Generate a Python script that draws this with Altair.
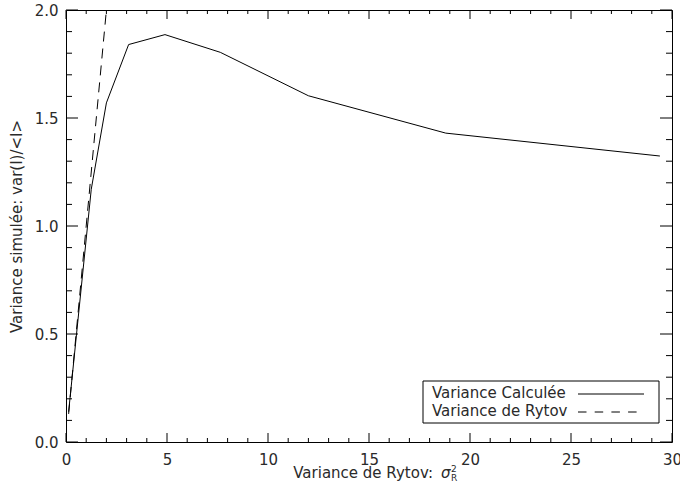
import altair as alt
import pandas as pd

# ---- data ----
calc_x = [0.13, 1.25, 2.0, 3.1, 4.9, 7.64, 12.0, 18.8, 29.4]
calc_y = [0.14, 1.17, 1.57, 1.84, 1.886, 1.804, 1.603, 1.43, 1.324]
rytov_x = [0.13, 1.25, 2.0]
rytov_y = [0.13, 1.25, 2.0]

x_major = [0, 5, 10, 15, 20, 25, 30]
x_minor = [1, 2, 3, 4, 6, 7, 8, 9, 11, 12, 13, 14, 16, 17, 18, 19,
           21, 22, 23, 24, 26, 27, 28, 29]
y_major = [0.0, 0.5, 1.0, 1.5, 2.0]
y_minor = [0.1, 0.2, 0.3, 0.4, 0.6, 0.7, 0.8, 0.9, 1.1, 1.2, 1.3, 1.4,
           1.6, 1.7, 1.8, 1.9]

legend_labels = ["Variance Calculée", "Variance de Rytov"]
x_title = "Variance de Rytov:"
y_title = "Variance simulée: var(I)/<I>"

W, H = 606, 432
FONT = "DejaVu Sans"
TXT = "#2a2a2a"

calc = pd.DataFrame({"x": calc_x, "y": calc_y})
ryt = pd.DataFrame({"x": rytov_x, "y": rytov_y})

xscale = alt.Scale(domain=[0, 30], nice=False, zero=False)
yscale = alt.Scale(domain=[0, 2], nice=False, zero=False)
xaxis = alt.Axis(title=None, values=x_major, format="d", grid=False, domain=False,
                 ticks=False, tickSize=0, labelPadding=10, labelFont=FONT,
                 labelFontSize=15, labelColor=TXT, labelBaseline="top",
                 labelFlush=False, labelOverlap=False, labelBound=False)
yaxis = alt.Axis(title=y_title, values=y_major, format=".1f", grid=False, domain=False,
                 ticks=False, tickSize=0, labelPadding=8, labelFont=FONT,
                 labelFontSize=15, labelColor=TXT, titleFont=FONT, titleFontSize=15,
                 titleFontWeight="normal", titleColor=TXT, titlePadding=10)

X = lambda f: alt.X(f, scale=xscale, axis=xaxis)
Y = lambda f: alt.Y(f, scale=yscale, axis=yaxis)

solid = alt.Chart(calc).mark_line(color="black", strokeWidth=1, clip=True).encode(
    x=X("x:Q"), y=Y("y:Q"))
dashed = alt.Chart(ryt).mark_line(color="black", strokeWidth=1, strokeDash=[10, 7],
                                  clip=True).encode(x=X("x:Q"), y=Y("y:Q"))

def xticks(vals, length):
    d = pd.DataFrame({"v": vals})
    b = alt.Chart(d).mark_rule(color="black", strokeWidth=1).encode(
        x=X("v:Q"), y=alt.value(H), y2=alt.value(H - length))
    t = alt.Chart(d).mark_rule(color="black", strokeWidth=1).encode(
        x=X("v:Q"), y=alt.value(0), y2=alt.value(length))
    return [b, t]

def yticks(vals, length):
    d = pd.DataFrame({"v": vals})
    l = alt.Chart(d).mark_rule(color="black", strokeWidth=1).encode(
        y=Y("v:Q"), x=alt.value(0), x2=alt.value(length))
    r = alt.Chart(d).mark_rule(color="black", strokeWidth=1).encode(
        y=Y("v:Q"), x=alt.value(W), x2=alt.value(W - length))
    return [l, r]

ticks = xticks(x_major, 9) + xticks(x_minor, 4) + yticks(y_major, 12) + yticks(y_minor, 6)

one = pd.DataFrame({"a": [0]})

def label(text, x, y, size=15, align="left", style="normal"):
    return alt.Chart(pd.DataFrame({"t": [text]})).mark_text(
        align=align, baseline="alphabetic", font=FONT, fontSize=size,
        fontStyle=style, color=TXT).encode(text="t:N", x=alt.value(x), y=alt.value(y))

# legend (IDL style box)
leg_box = alt.Chart(one).mark_rect(fill="white", stroke="black", strokeWidth=1).encode(
    x=alt.value(357), x2=alt.value(593), y=alt.value(371), y2=alt.value(413))
leg_t1 = label(legend_labels[0], 366, 388)
leg_t2 = label(legend_labels[1], 366, 406)
leg_solid = alt.Chart(one).mark_rule(color="black", strokeWidth=1).encode(
    x=alt.value(512), x2=alt.value(578), y=alt.value(384))
leg_dash = alt.Chart(one).mark_rule(color="black", strokeWidth=1,
                                    strokeDash=[8.5, 8.2]).encode(
    x=alt.value(512), x2=alt.value(571), y=alt.value(402))

# x axis title with sigma^2_R
tmain = label(x_title, 367, 468, align="right")
tsig = label("σ", 375, 468, style="italic")
tsup = label("2", 385, 462, size=9)
tsub = label("R", 385, 471, size=9)

chart = alt.layer(solid, dashed, *ticks, leg_box, leg_t1, leg_t2, leg_solid, leg_dash,
                  tmain, tsig, tsup, tsub).properties(
    width=W, height=H,
    padding={"left": 66, "top": 10, "right": 8, "bottom": 47},
    autosize=alt.AutoSizeParams(type="none"),
    background="white",
).configure_view(stroke="black", strokeWidth=1)

chart.save("out.html", embed_options={"renderer": "svg", "actions": False})
